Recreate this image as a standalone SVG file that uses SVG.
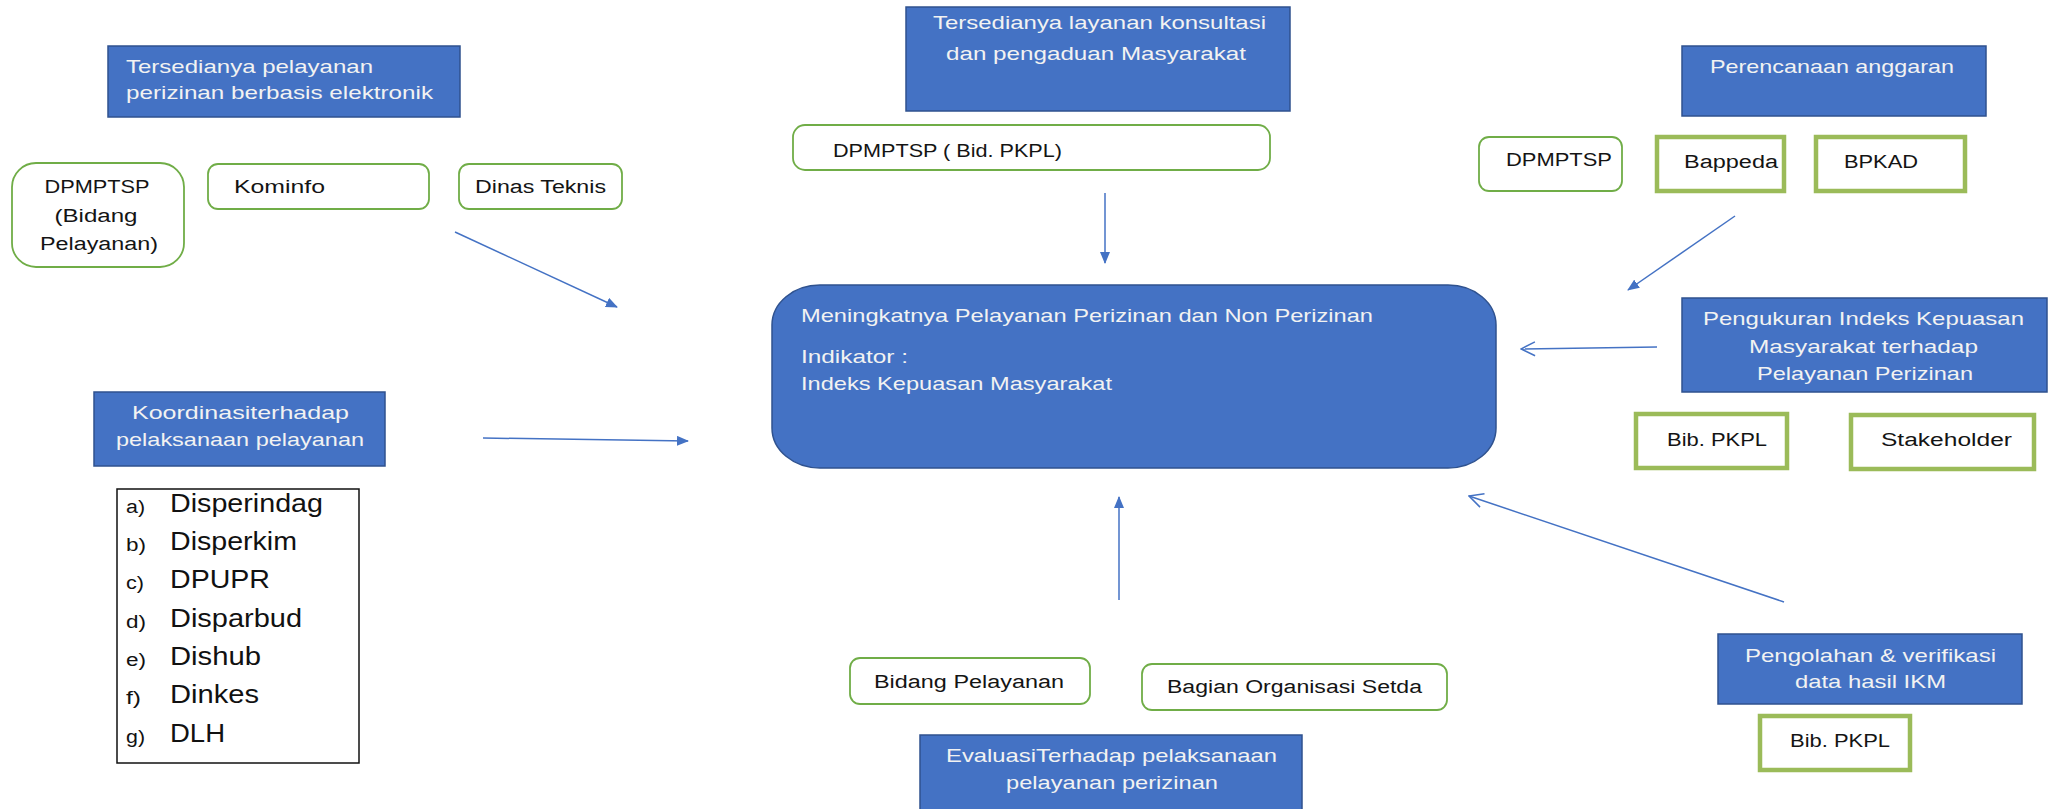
<svg xmlns="http://www.w3.org/2000/svg" width="2056" height="809" viewBox="0 0 2056 809">
<style>
.blue{fill:#4472C4;stroke:#2F528F;stroke-width:1.5}
.gthin{fill:#fff;stroke:#70AD47;stroke-width:1.8}
.gthick{fill:#fff;stroke:#9BBB59;stroke-width:4.5}
.wt{font-family:"Liberation Sans",Arial,sans-serif;font-size:19px;fill:#F2F2F2}
.bt{font-family:"Liberation Sans",Arial,sans-serif;font-size:18px;fill:#141414}
.lt{font-family:"Liberation Sans",Arial,sans-serif;font-size:25px;fill:#111}
.ll{font-family:"Liberation Sans",Arial,sans-serif;font-size:18px;fill:#111}
.c{stroke:#4472C4;stroke-width:1.5;fill:none}
</style>
<defs>
<marker id="tri" viewBox="0 0 12 10" refX="11" refY="5" markerWidth="12" markerHeight="10" markerUnits="userSpaceOnUse" orient="auto">
<path d="M0,0 L12,5 L0,10 z" fill="#4472C4"/>
</marker>
<marker id="open" viewBox="0 0 16 16" refX="15" refY="8" markerWidth="16" markerHeight="16" markerUnits="userSpaceOnUse" orient="auto">
<path d="M1,1 L15,8 L1,15" fill="none" stroke="#4472C4" stroke-width="1.5"/>
</marker>
</defs>
<rect width="2056" height="809" fill="#fff"/>

<g id="connectors">
<line class="c" x1="455" y1="232" x2="617" y2="307" marker-end="url(#tri)"/>
<line class="c" x1="483" y1="438" x2="688" y2="441" marker-end="url(#tri)"/>
<line class="c" x1="1105" y1="193" x2="1105" y2="263" marker-end="url(#tri)"/>
<line class="c" x1="1119" y1="600" x2="1119" y2="497" marker-end="url(#tri)"/>
<line class="c" x1="1735" y1="216" x2="1628" y2="290" marker-end="url(#tri)"/>
<line class="c" x1="1657" y1="347" x2="1521" y2="349" marker-end="url(#open)"/>
<line class="c" x1="1784" y1="602" x2="1469" y2="496" marker-end="url(#open)"/>
</g>

<g id="n-elektronik">
<rect class="blue" x="108" y="46" width="352" height="71"/>
<text class="wt" x="126" y="73" textLength="247" lengthAdjust="spacingAndGlyphs">Tersedianya pelayanan</text>
<text class="wt" x="126" y="99" textLength="307" lengthAdjust="spacingAndGlyphs">perizinan berbasis elektronik</text>
</g>
<g id="n-dpmptsp-bidang">
<rect class="gthin" x="12" y="163" width="172" height="104" rx="24"/>
<text class="bt" x="97" y="193" text-anchor="middle" textLength="105" lengthAdjust="spacingAndGlyphs">DPMPTSP</text>
<text class="bt" x="96" y="222" text-anchor="middle" textLength="83" lengthAdjust="spacingAndGlyphs">(Bidang</text>
<text class="bt" x="99" y="250" text-anchor="middle" textLength="118" lengthAdjust="spacingAndGlyphs">Pelayanan)</text>
</g>
<g id="n-kominfo">
<rect class="gthin" x="208" y="164" width="221" height="45" rx="10"/>
<text class="bt" x="234" y="193" textLength="91" lengthAdjust="spacingAndGlyphs">Kominfo</text>
</g>
<g id="n-dinas-teknis">
<rect class="gthin" x="459" y="164" width="163" height="45" rx="10"/>
<text class="bt" x="475" y="193" textLength="131" lengthAdjust="spacingAndGlyphs">Dinas Teknis</text>
</g>

<g id="n-konsultasi">
<rect class="blue" x="906" y="7" width="384" height="104"/>
<text class="wt" x="933" y="29" textLength="333" lengthAdjust="spacingAndGlyphs">Tersedianya layanan konsultasi</text>
<text class="wt" x="946" y="60" textLength="300" lengthAdjust="spacingAndGlyphs">dan pengaduan Masyarakat</text>
</g>
<g id="n-dpmptsp-pkpl">
<rect class="gthin" x="793" y="125" width="477" height="45" rx="12"/>
<text class="bt" x="833" y="157" textLength="229" lengthAdjust="spacingAndGlyphs">DPMPTSP ( Bid. PKPL)</text>
</g>

<g id="n-anggaran">
<rect class="blue" x="1682" y="46" width="304" height="70"/>
<text class="wt" x="1710" y="73" textLength="244" lengthAdjust="spacingAndGlyphs">Perencanaan anggaran</text>
</g>
<g id="n-dpmptsp">
<rect class="gthin" x="1479" y="137" width="143" height="54" rx="10"/>
<text class="bt" x="1506" y="166" textLength="106" lengthAdjust="spacingAndGlyphs">DPMPTSP</text>
</g>
<g id="n-bappeda">
<rect class="gthick" x="1657" y="137" width="127" height="54"/>
<text class="bt" x="1684" y="168" textLength="94" lengthAdjust="spacingAndGlyphs">Bappeda</text>
</g>
<g id="n-bpkad">
<rect class="gthick" x="1816" y="137" width="149" height="54"/>
<text class="bt" x="1844" y="168" textLength="74" lengthAdjust="spacingAndGlyphs">BPKAD</text>
</g>

<g id="n-main">
<rect class="blue" x="772" y="285" width="724" height="183" rx="48" ry="40"/>
<text class="wt" x="801" y="322" textLength="572" lengthAdjust="spacingAndGlyphs">Meningkatnya Pelayanan Perizinan dan Non Perizinan</text>
<text class="wt" x="801" y="363" textLength="107" lengthAdjust="spacingAndGlyphs">Indikator :</text>
<text class="wt" x="801" y="390" textLength="311" lengthAdjust="spacingAndGlyphs">Indeks Kepuasan Masyarakat</text>
</g>

<g id="n-pengukuran">
<rect class="blue" x="1682" y="298" width="365" height="94"/>
<text class="wt" x="1703" y="325" textLength="321" lengthAdjust="spacingAndGlyphs">Pengukuran Indeks Kepuasan</text>
<text class="wt" x="1749" y="353" textLength="229" lengthAdjust="spacingAndGlyphs">Masyarakat terhadap</text>
<text class="wt" x="1757" y="380" textLength="216" lengthAdjust="spacingAndGlyphs">Pelayanan Perizinan</text>
</g>
<g id="n-bib-pkpl-1">
<rect class="gthick" x="1636" y="414" width="151" height="54"/>
<text class="bt" x="1667" y="446" textLength="100" lengthAdjust="spacingAndGlyphs">Bib. PKPL</text>
</g>
<g id="n-stakeholder">
<rect class="gthick" x="1851" y="415" width="183" height="54"/>
<text class="bt" x="1881" y="446" textLength="131" lengthAdjust="spacingAndGlyphs">Stakeholder</text>
</g>

<g id="n-koordinasi">
<rect class="blue" x="94" y="392" width="291" height="74"/>
<text class="wt" x="132" y="419" textLength="217" lengthAdjust="spacingAndGlyphs">Koordinasiterhadap</text>
<text class="wt" x="116" y="446" textLength="248" lengthAdjust="spacingAndGlyphs">pelaksanaan pelayanan</text>
</g>
<g id="n-list">
<rect x="117" y="489" width="242" height="274" fill="#fff" stroke="#111" stroke-width="1.5"/>
<text class="ll" x="126" y="513" textLength="19" lengthAdjust="spacingAndGlyphs">a)</text><text class="lt" x="170" y="512" textLength="153" lengthAdjust="spacingAndGlyphs">Disperindag</text>
<text class="ll" x="126" y="551" textLength="20" lengthAdjust="spacingAndGlyphs">b)</text><text class="lt" x="170" y="550" textLength="127" lengthAdjust="spacingAndGlyphs">Disperkim</text>
<text class="ll" x="126" y="589" textLength="18" lengthAdjust="spacingAndGlyphs">c)</text><text class="lt" x="170" y="588" textLength="100" lengthAdjust="spacingAndGlyphs">DPUPR</text>
<text class="ll" x="126" y="628" textLength="20" lengthAdjust="spacingAndGlyphs">d)</text><text class="lt" x="170" y="627" textLength="132" lengthAdjust="spacingAndGlyphs">Disparbud</text>
<text class="ll" x="126" y="666" textLength="20" lengthAdjust="spacingAndGlyphs">e)</text><text class="lt" x="170" y="665" textLength="91" lengthAdjust="spacingAndGlyphs">Dishub</text>
<text class="ll" x="126" y="704" textLength="15" lengthAdjust="spacingAndGlyphs">f)</text><text class="lt" x="170" y="703" textLength="89" lengthAdjust="spacingAndGlyphs">Dinkes</text>
<text class="ll" x="126" y="743" textLength="19" lengthAdjust="spacingAndGlyphs">g)</text><text class="lt" x="170" y="742" textLength="55" lengthAdjust="spacingAndGlyphs">DLH</text>
</g>

<g id="n-bidang-pelayanan">
<rect class="gthin" x="850" y="658" width="240" height="46" rx="10"/>
<text class="bt" x="874" y="688" textLength="190" lengthAdjust="spacingAndGlyphs">Bidang Pelayanan</text>
</g>
<g id="n-bagian-organisasi">
<rect class="gthin" x="1142" y="664" width="305" height="46" rx="10"/>
<text class="bt" x="1167" y="693" textLength="255" lengthAdjust="spacingAndGlyphs">Bagian Organisasi Setda</text>
</g>
<g id="n-evaluasi">
<rect class="blue" x="920" y="735" width="382" height="76"/>
<text class="wt" x="946" y="762" textLength="331" lengthAdjust="spacingAndGlyphs">EvaluasiTerhadap pelaksanaan</text>
<text class="wt" x="1006" y="789" textLength="212" lengthAdjust="spacingAndGlyphs">pelayanan perizinan</text>
</g>

<g id="n-pengolahan">
<rect class="blue" x="1718" y="634" width="304" height="70"/>
<text class="wt" x="1745" y="662" textLength="251" lengthAdjust="spacingAndGlyphs">Pengolahan &amp; verifikasi</text>
<text class="wt" x="1795" y="688" textLength="151" lengthAdjust="spacingAndGlyphs">data hasil IKM</text>
</g>
<g id="n-bib-pkpl-2">
<rect class="gthick" x="1760" y="716" width="150" height="54"/>
<text class="bt" x="1790" y="747" textLength="100" lengthAdjust="spacingAndGlyphs">Bib. PKPL</text>
</g>
</svg>
